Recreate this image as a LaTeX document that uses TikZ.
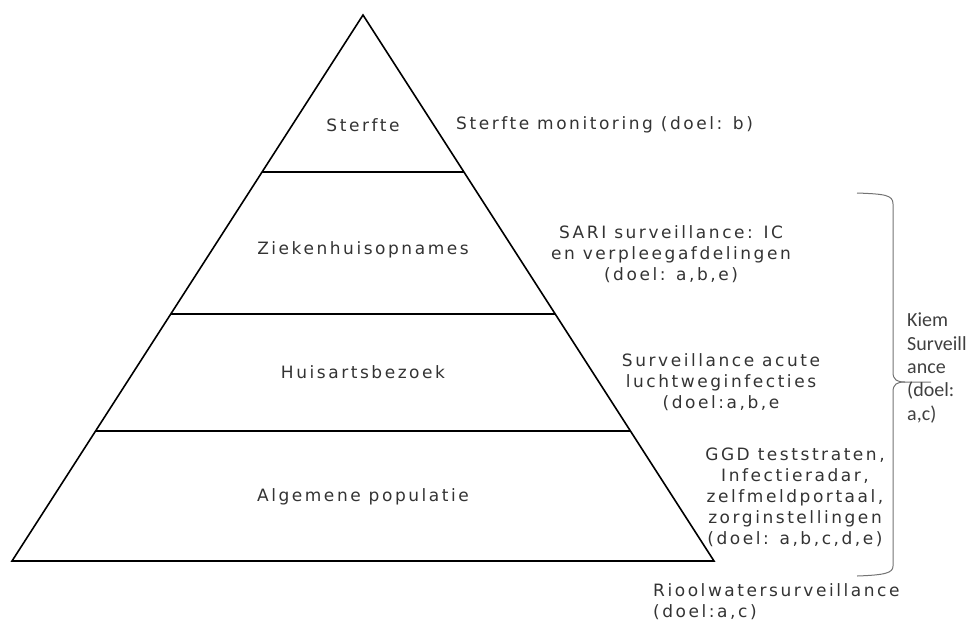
\documentclass[tikz,border=0pt]{standalone}
\usepackage{fontspec}
\usepackage{tikz}
\usetikzlibrary{calc,positioning}
\newfontfamily\verdfont[LetterSpace=15]{DejaVu Sans}
\newfontfamily\kiemfont{Carlito}

\begin{document}
\begin{tikzpicture}[x=1pt,y=-1pt,
    lvl/.style={font=\verdfont\fontsize{17}{21}\selectfont,text=black!80,inner sep=0pt},
    side/.style={lvl,align=center},
    edge/.style={line width=1.6pt}]
  \useasboundingbox (0,0) rectangle (968,622);
  \coordinate (T) at (363,15);
  \coordinate (L) at (12,561);
  \coordinate (R) at (714,561);
  \draw[edge] (T) -- (L) -- (R) -- cycle;
  \foreach \f in {0.2875,0.5476,0.7619}
    \draw[edge] ($ (T) ! \f ! (L) $) -- ($ (T) ! \f ! (R) $);

  \node[lvl] (sterfte) at (363,125) {Sterfte};
  \node[lvl] (zieken) at (363,250) {Ziekenhuisopnames};
  \node[lvl] (huisarts) at (363,372) {Huisartsbezoek};
  \node[lvl] (algemeen) at (363,497) {Algemene populatie};

  \node[lvl,anchor=west] (monitoring) at (456,125) {Sterfte monitoring (doel: b)};
  \node[side] (sari) at (671,254) {SARI surveillance: IC\\en verpleegafdelingen\\(doel: a,b,e)};
  \node[side] (acute) at (721,382) {Surveillance acute\\luchtweginfecties\\(doel:a,b,e};
  \node[side] (ggd) at (795,497) {GGD teststraten,\\Infectieradar,\\zelfmeldportaal,\\zorginstellingen\\(doel: a,b,c,d,e)};
  \node[lvl,align=left,anchor=west] (riool) at (653,602) {Rioolwatersurveillance\\(doel:a,c)};

  % brace
  \draw[black!55,line width=1pt] (857,193) .. controls (885,194) and (893,195) .. (893,204)
    -- (893,372) .. controls (893,380) and (897,382) .. (905,382) -- (931,382);
  \draw[black!55,line width=1pt] (905,382) .. controls (897,382) and (893,384) .. (893,392)
    -- (893,566) .. controls (893,573) and (885,575) .. (857,576);
  \node[font=\kiemfont\fontsize{20}{23.3}\selectfont,text=black!75,align=left,
    anchor=west,inner sep=0pt] (kiem) at (907,368) {Kiem\\Surveill\\ance\\(doel:\\a,c)};
\end{tikzpicture}
\end{document}
